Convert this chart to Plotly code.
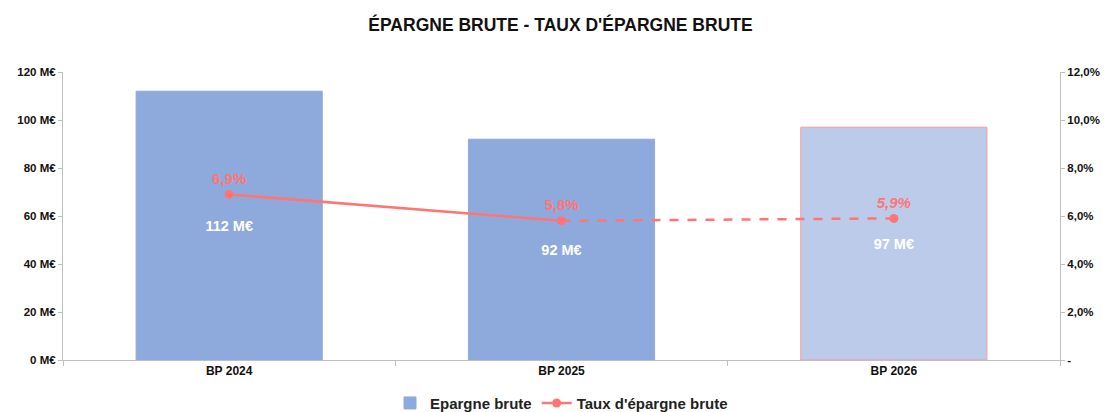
import plotly.graph_objects as go
from plotly.subplots import make_subplots

# données
exercices = ["BP 2024", "BP 2025", "BP 2026"]
epargne_brute = [112, 92, 97]           # M€
taux_epargne = [6.9, 5.8, 5.9]          # %
left_ticks = [0, 20, 40, 60, 80, 100, 120]
left_labels = ["0 M€", "20 M€", "40 M€", "60 M€", "80 M€", "100 M€", "120 M€"]
right_ticks = [0, 2, 4, 6, 8, 10, 12]
right_labels = ["-", "2,0%", "4,0%", "6,0%", "8,0%", "10,0%", "12,0%"]

BLEU = "#8eaadc"
BLEU_CLAIR = "#bccbe9"
ROUGE = "#ff7575"
FONT = "Liberation Sans, Arial, sans-serif"


def pct(v):
    return f"{v:.1f}%".replace(".", ",")


fig = make_subplots(specs=[[{"secondary_y": True}]])

fig.add_trace(
    go.Bar(
        x=exercices, y=epargne_brute,
        name="Epargne brute",
        marker=dict(color=[BLEU, BLEU, BLEU_CLAIR],
                    line=dict(color=[BLEU, BLEU, "#f59a9a"], width=1)),
        width=0.56,
        text=[f"{v} M€" for v in epargne_brute],
        textposition="inside", insidetextanchor="middle",
        textfont=dict(color="white", size=14.5, family=FONT, weight="bold"),
        hoverinfo="skip",
    ),
    secondary_y=False,
)

# projet : pointillés (sous le reste)
fig.add_trace(
    go.Scatter(
        x=exercices[1:], y=taux_epargne[1:],
        mode="lines",
        line=dict(color=ROUGE, width=2.5, dash="dash"),
        showlegend=False,
    ),
    secondary_y=True,
)

# réalisé / voté : trait plein
fig.add_trace(
    go.Scatter(
        x=exercices[:2], y=taux_epargne[:2],
        name="Taux d'épargne brute",
        mode="lines+markers+text",
        line=dict(color=ROUGE, width=2.5),
        marker=dict(color=ROUGE, size=9, line=dict(width=0)),
        text=[pct(v) for v in taux_epargne[:2]],
        textposition="top center",
        textfont=dict(color=ROUGE, size=15, family=FONT, weight="bold"),
    ),
    secondary_y=True,
)

# point du projet, étiquette en italique
fig.add_trace(
    go.Scatter(
        x=exercices[2:], y=taux_epargne[2:],
        mode="markers+text",
        marker=dict(color=ROUGE, size=9, line=dict(width=0)),
        text=[f"<i>{pct(v)}</i>" for v in taux_epargne[2:]],
        textposition="top center",
        textfont=dict(color=ROUGE, size=15, family=FONT, weight="bold"),
        showlegend=False,
    ),
    secondary_y=True,
)

# la page ajoute 8 px de marge : figure réduite d'autant
fig.update_layout(
    title=dict(text="ÉPARGNE BRUTE - TAUX D'ÉPARGNE BRUTE", x=0.5, xanchor="center",
               yref="container", y=0.958, yanchor="middle",
               font=dict(size=17.5, color="#111", family=FONT, weight="bold")),
    width=1105, height=404,
    margin=dict(l=55, r=53, t=64, b=52, autoexpand=False),
    paper_bgcolor="white", plot_bgcolor="white",
    font=dict(family=FONT, size=11, color="#111"),
    separators=", ",
    showlegend=True,
    legend=dict(orientation="h", x=0.5, xanchor="center", y=-0.15, yanchor="middle",
                font=dict(size=15, color="#222", weight="bold"),
                tracegroupgap=0),
)

fig.update_xaxes(domain=[0, 1], showline=True, linecolor="#bfbfbf", linewidth=1,
                 ticks="outside", tickson="boundaries", ticklen=5, tickcolor="#bfbfbf",
                 tickfont=dict(size=12, weight="bold"), showgrid=False, automargin=False)
fig.update_yaxes(range=[0, 120], tickvals=left_ticks, ticktext=left_labels,
                 showline=True, linecolor="#bfbfbf", ticks="outside", ticklen=4,
                 tickcolor="#bfbfbf", showgrid=False, zeroline=False, automargin=False,
                 tickfont=dict(size=11.5, weight="bold"), secondary_y=False)
fig.update_yaxes(range=[0, 12], tickvals=right_ticks, ticktext=right_labels,
                 showline=True, linecolor="#bfbfbf", ticks="outside", ticklen=4,
                 tickcolor="#bfbfbf", showgrid=False, zeroline=False, automargin=False,
                 tickfont=dict(size=11.5, weight="bold"), secondary_y=True)

fig.write_html("out.html")
